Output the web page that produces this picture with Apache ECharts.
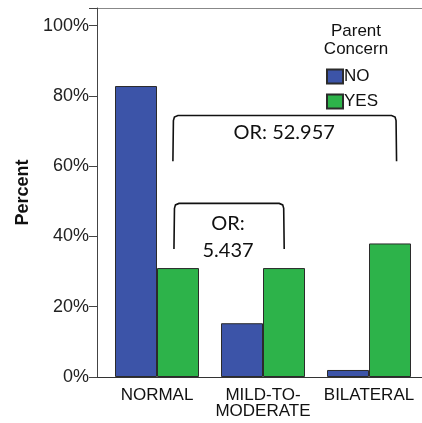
<!DOCTYPE html>
<html>
<head>
<meta charset="utf-8">
<script src="https://cdn.jsdelivr.net/npm/echarts@6/dist/echarts.min.js"></script>
<style>html,body{margin:0;padding:0;background:#fff;}#c{width:422px;height:423px;}</style>
</head>
<body>
<div id="c"></div>
<script>
var categories = ['NORMAL', 'MILD-TO-\nMODERATE', 'BILATERAL'];
var seriesNames = ['NO', 'YES'];
var noValues = [82.8, 15.3, 2.0];
var yesValues = [31.0, 31.0, 38.0];
var yTicks = [0, 20, 40, 60, 80, 100];
// annotations: [xStart, xEnd (category position), yTop, yBottom (percent)]
var bracketLarge = [0.15, 2.26, 74.4, 61.4];
var bracketSmall = [0.16, 1.2, 49.4, 36.4];
var labelLarge = ['OR: 52.957', 1.2, 69.6];
var labelSmall1 = ['OR:', 0.67, 43.8];
var labelSmall2 = ['5.437', 0.67, 35.9];

var chart = echarts.init(document.getElementById('c'));
var font = '"Liberation Sans", Arial, sans-serif';
chart.setOption({
  animation: false,
  grid: {left: 104, width: 320, top: 8, bottom: 46},
  legend: {
    data: seriesNames, orient: 'vertical', left: 326, top: 68, padding: 0,
    icon: 'rect', itemWidth: 16, itemHeight: 14, itemGap: 8,
    textStyle: {fontFamily: font, fontSize: 17, color: '#111', padding: [0, 0, 0, -4]},
    selectedMode: false
  },
  xAxis: {
    type: 'category', data: categories,
    axisLine: {lineStyle: {color: '#333', width: 1}},
    axisTick: {alignWithLabel: true, length: 6, lineStyle: {color: '#333'}},
    axisLabel: {fontFamily: font, fontSize: 17, color: '#111', margin: 10, lineHeight: 16, interval: 0}
  },
  yAxis: {
    type: 'value', min: 0, max: 105, interval: 20, offset: 7,
    name: 'Percent', nameLocation: 'middle', nameGap: 62,
    nameTextStyle: {fontFamily: font, fontSize: 18, fontWeight: 'bold', color: '#111'},
    axisLine: {show: true, lineStyle: {color: '#444'}},
    axisTick: {show: true, length: 8, lineStyle: {color: '#444'}},
    splitLine: {show: false},
    axisLabel: {fontFamily: font, fontSize: 18, color: '#222', margin: 8,
      formatter: function (v) { return yTicks.indexOf(v) >= 0 ? v + '%' : ''; }}
  },
  series: [
    {name: seriesNames[0], type: 'bar', data: noValues, barWidth: 42, barGap: '0%',
     itemStyle: {color: '#3c54a8', borderColor: '#2b2b2b', borderWidth: 1}},
    {name: seriesNames[1], type: 'bar', data: yesValues, barWidth: 42, barGap: '0%',
     itemStyle: {color: '#2db34a', borderColor: '#2b2b2b', borderWidth: 1}}
  ]
});

function px(xc, yv) {
  var p0 = chart.convertToPixel({gridIndex: 0}, [0, yv]);
  var p1 = chart.convertToPixel({gridIndex: 0}, [1, yv]);
  return [p0[0] + xc * (p1[0] - p0[0]), p0[1]];
}
function bracket(b) {
  var a = px(b[0], b[3]), t = px(b[0], b[2]), r = px(b[1], b[2]);
  var x1 = a[0], x2 = r[0], yt = t[1], yb = a[1], k = 5;
  return {type: 'polyline', silent: true,
    shape: {points: [[x1, yb], [x1 + 0.5, yt + k], [x1 + 1.5, yt + 1.5], [x1 + k, yt],
                     [x2 - k, yt], [x2 - 1.5, yt + 1.5], [x2 - 0.5, yt + k], [x2, yb]]},
    style: {stroke: '#111', lineWidth: 1.6, fill: null}};
}
function label(l) {
  var p = px(l[1], l[2]);
  return {type: 'text', silent: true, x: p[0], y: p[1],
    style: {text: l[0], fontFamily: 'Lato, "Open Sans", sans-serif', fontSize: 20, fill: '#111',
            textAlign: 'center', textVerticalAlign: 'middle'}};
}
var g0 = px(0, 0), gTop = px(0, 105);
chart.setOption({
  graphic: [
    {type: 'line', silent: true, shape: {x1: 97, y1: gTop[1] + 0.5, x2: 422, y2: gTop[1] + 0.5}, style: {stroke: '#888', lineWidth: 1}},
    {type: 'line', silent: true, shape: {x1: 97, y1: g0[1] + 0.5, x2: 105, y2: g0[1] + 0.5}, style: {stroke: '#333', lineWidth: 1}},
    {type: 'text', silent: true, x: 356, y: 22,
     style: {text: 'Parent\nConcern', fontFamily: font, fontSize: 17, fill: '#111', textAlign: 'center', lineHeight: 18}},
    bracket(bracketLarge), bracket(bracketSmall),
    label(labelLarge), label(labelSmall1), label(labelSmall2)
  ]
});
</script>
</body>
</html>
